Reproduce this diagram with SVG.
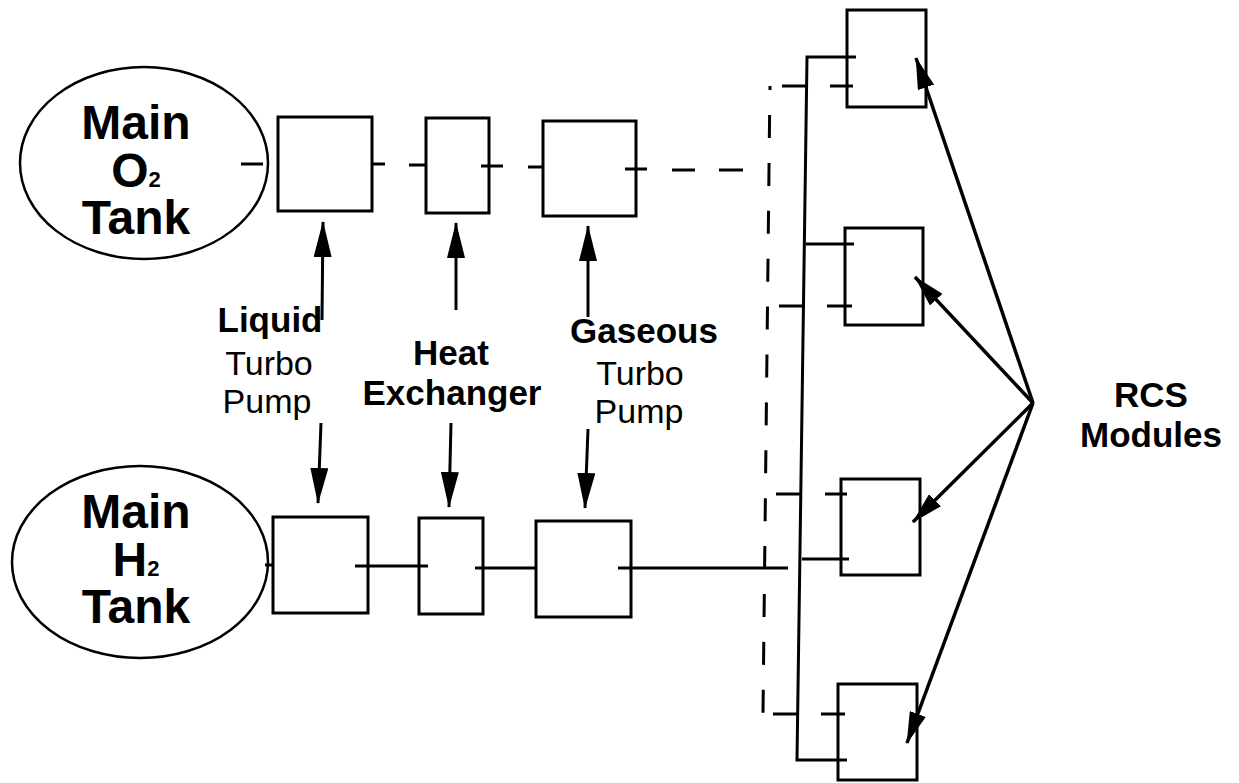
<svg xmlns="http://www.w3.org/2000/svg" width="1239" height="783" viewBox="0 0 1239 783">
<style>
.box{fill:none;stroke:#000;stroke-width:3}
.tank{fill:none;stroke:#000;stroke-width:2.5}
.ln{fill:none;stroke:#000;stroke-width:3}
.dash{fill:none;stroke:#000;stroke-width:3;stroke-dasharray:23 24.9}
.arr{fill:none;stroke:#000;stroke-width:3;marker-end:url(#ah)}
.arr2{fill:none;stroke:#000;stroke-width:3.5;marker-end:url(#ah2)}
.big{font-family:"Liberation Sans",Arial,sans-serif;font-weight:bold;font-size:48px;text-anchor:middle}
.b{font-family:"Liberation Sans",Arial,sans-serif;font-weight:bold;font-size:35px;text-anchor:middle}
.r{font-family:"Liberation Sans",Arial,sans-serif;font-size:34px;text-anchor:middle}
</style>
<defs>
<marker id="ah" viewBox="0 0 36 18" markerWidth="36" markerHeight="18" refX="35" refY="9" orient="auto" markerUnits="userSpaceOnUse"><path d="M0,0 L36,9 L0,18 z" fill="#000"/></marker>
<marker id="ah2" viewBox="0 0 32 17" markerWidth="32" markerHeight="17" refX="31" refY="8.5" orient="auto" markerUnits="userSpaceOnUse"><path d="M0,0 L32,8.5 L0,17 z" fill="#000"/></marker>
</defs>
<rect width="1239" height="783" fill="#fff"/>

<g id="o2tank">
<ellipse class="tank" cx="144" cy="163" rx="124" ry="96"/>
<text class="big"><tspan x="136" y="139">Main</tspan><tspan x="136" y="187">O<tspan font-size="22">2</tspan></tspan><tspan x="136" y="234">Tank</tspan></text>
</g>
<g id="h2tank">
<ellipse class="tank" cx="140" cy="562" rx="128" ry="96"/>
<text class="big"><tspan x="136" y="528">Main</tspan><tspan x="136" y="576">H<tspan font-size="22">2</tspan></tspan><tspan x="136" y="623">Tank</tspan></text>
</g>

<g id="o2-lpump"><rect class="box" x="278" y="117" width="94" height="94"/></g>
<g id="o2-hx"><rect class="box" x="426" y="118" width="63" height="95"/></g>
<g id="o2-gpump"><rect class="box" x="543" y="121" width="93" height="95"/></g>
<g id="h2-lpump"><rect class="box" x="273" y="517" width="95" height="96"/></g>
<g id="h2-hx"><rect class="box" x="419" y="518" width="64" height="96"/></g>
<g id="h2-gpump"><rect class="box" x="536" y="521" width="95" height="96"/></g>

<g id="rcs1"><rect class="box" x="847" y="10" width="79" height="97"/></g>
<g id="rcs2"><rect class="box" x="845" y="228" width="78" height="97"/></g>
<g id="rcs3"><rect class="box" x="841" y="479" width="79" height="96"/></g>
<g id="rcs4"><rect class="box" x="838" y="684" width="79" height="96"/></g>

<g id="labels">
<text class="b" x="270" y="332">Liquid</text>
<text class="r" x="269" y="375">Turbo</text>
<text class="r" x="267" y="413">Pump</text>
<text class="b" x="451" y="365">Heat</text>
<text class="b" x="452" y="405">Exchanger</text>
<text class="b" x="644" y="343">Gaseous</text>
<text class="r" x="640" y="385">Turbo</text>
<text class="r" x="639" y="423">Pump</text>
<text class="b" x="1151" y="407">RCS</text>
<text class="b" x="1151" y="447">Modules</text>
</g>

<g id="connectors">
<path class="ln" d="M241,164 H263 M372,164 H385 M409,165 H426 M481,166 H503 M528,167 H543 M625,169 H647 M672,170 H695 M719,170 H743"/>
<path class="ln" d="M265,565 H273 M355,566 H428 M475,568 H536 M618,568 H788"/>
<path class="ln" d="M770,86 V90"/>
<path class="dash" d="M769.6,115 L763,713"/>
<path class="ln" d="M856,57 H807 L797,760 H847"/>
<path class="ln" d="M782,86 H807 M830,86 H853 M806,244 H854 M779,306 H805 M827,306 H852 M776,494 H802 M825,494 H847 M802,559 H849 M773,714 H797 M821,714 H845"/>
<path class="arr" d="M322,320 L323,222"/>
<path class="arr" d="M321,423 L318,503"/>
<path class="arr" d="M456,310 L456,223"/>
<path class="arr" d="M451,423 L449,507"/>
<path class="arr" d="M588,317 L588,226"/>
<path class="arr" d="M588,429 L585,508"/>
<path class="arr2" d="M1033,403 L916,58"/>
<path class="arr2" d="M1033,403 L915,277"/>
<path class="arr2" d="M1033,403 L913,522"/>
<path class="arr2" d="M1033,403 L907,743"/>
</g>
</svg>
